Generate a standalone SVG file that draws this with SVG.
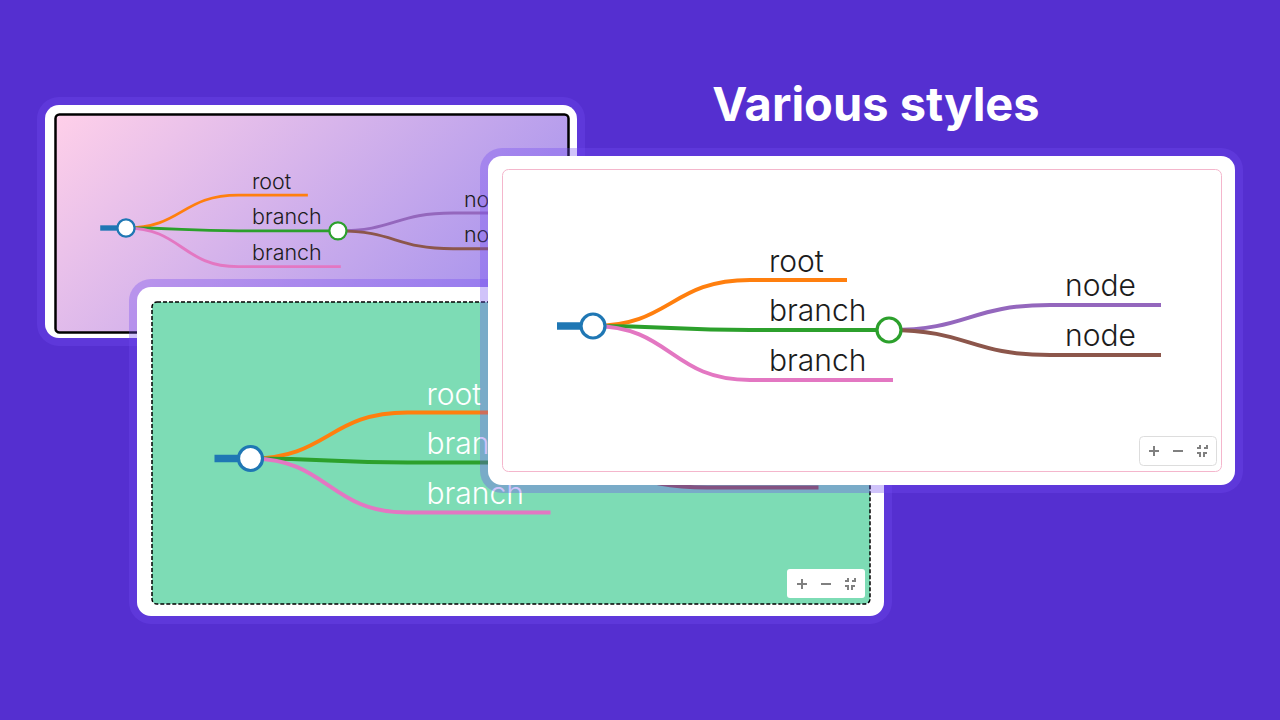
<svg xmlns="http://www.w3.org/2000/svg" width="1280" height="720" viewBox="0 0 1280 720">
<style>
.halo{fill:rgb(113,74,239);fill-opacity:.335}
.card{fill:#fff}
.t{font-family:Inter,"Liberation Sans",Arial,sans-serif;font-size:30px;font-weight:300;fill:#1c1c1c}
.w .t{fill:#fff}
.l{fill:none;stroke-width:4;stroke-linecap:butt}
.o{stroke:#ff7f0e}.g{stroke:#2ca02c}.p{stroke:#e377c2}.v{stroke:#9467bd}.b{stroke:#8c564b}
.stem{stroke:#1f77b4;stroke-width:7.500;fill:none}
.c1{fill:#fff;stroke:#1f77b4;stroke-width:3.200}
.c2{fill:#fff;stroke:#2ca02c;stroke-width:3.200}
.ic{fill:none;stroke:#808080;stroke-width:2}
.title{font-family:Inter,"Liberation Sans",sans-serif;font-size:47px;font-weight:700;fill:#fff}
</style>
<defs>
<linearGradient id="grad" gradientUnits="userSpaceOnUse" x1="129" y1="40" x2="495" y2="407">
<stop offset="0" stop-color="#ffd0e9"/><stop offset="1" stop-color="#9a8aee"/>
</linearGradient>
</defs>
<rect width="1280" height="720" fill="#552fd0"/>
<text class="title" x="876" y="121" text-anchor="middle">Various styles</text>

<g id="card-gradient">
<rect class="halo" x="37" y="97" width="548" height="249" rx="22"/>
<rect class="card" x="45" y="105" width="532" height="233" rx="14"/>
<rect x="55.500" y="114.500" width="513" height="218" rx="4" fill="url(#grad)" stroke="#000" stroke-width="2.500"/>
<g transform="translate(126 228) scale(.716) translate(-593 -326)">
<g id="a-links">
<path class="stem" d="M557 326H593"/>
<path class="l o" d="M593 326C671 326 671 280 750 280H847"/>
<path class="l g" d="M593 326C671 326 671 330 750 330H877"/>
<path class="l p" d="M593 326C671 326 671 380 750 380H893"/>
<path class="l v" d="M889 330C969 330 969 305 1050 305H1161"/>
<path class="l b" d="M889 330C969 330 969 355 1050 355H1161"/>
</g>
<g id="a-root"><circle class="c1" cx="593" cy="326" r="12"/></g>
<g id="a-n1"><text class="t" x="769" y="272">root</text></g>
<g id="a-n2"><text class="t" x="769" y="321">branch</text><circle class="c2" cx="889" cy="330" r="12"/></g>
<g id="a-n3"><text class="t" x="769" y="371">branch</text></g>
<g id="a-n4"><text class="t" x="1065" y="296">node</text></g>
<g id="a-n5"><text class="t" x="1065" y="346">node</text></g>
</g>
</g>

<g id="card-green">
<rect class="halo" x="129" y="279" width="763" height="345" rx="22"/>
<rect class="card" x="137" y="287" width="747" height="329" rx="14"/>
<rect x="152" y="302" width="718" height="302" rx="5" fill="#7ddcb5" stroke="#000" stroke-width="1.500" stroke-dasharray="4 2"/>
<g class="w" transform="translate(-342.500 132.500)">
<g id="b-links">
<path class="stem" d="M557 326H593"/>
<path class="l o" d="M593 326C671 326 671 280 750 280H847"/>
<path class="l g" d="M593 326C671 326 671 330 750 330H877"/>
<path class="l p" d="M593 326C671 326 671 380 750 380H893"/>
<path class="l v" d="M889 330C969 330 969 305 1050 305H1161"/>
<path class="l b" d="M889 330C969 330 969 355 1050 355H1161"/>
</g>
<g id="b-root"><circle class="c1" cx="593" cy="326" r="12"/></g>
<g id="b-n1"><text class="t" x="769" y="272">root</text></g>
<g id="b-n2"><text class="t" x="769" y="321">branch</text><circle class="c2" cx="889" cy="330" r="12"/></g>
<g id="b-n3"><text class="t" x="769" y="371">branch</text></g>
</g>
<g id="b-controls">
<rect x="787" y="569" width="78" height="29" rx="3" fill="#fff"/>
<path class="ic" d="M797 584H807M802 579V589M821 584H831M845 581H848V578M855 578V581H852M845 586H848V590M855 586H852V590"/>
</g>
</g>

<g id="card-white">
<rect class="halo" x="480" y="148" width="763" height="345" rx="22"/>
<rect class="card" x="488" y="156" width="747" height="329" rx="14"/>
<rect x="502.500" y="169.500" width="719" height="302" rx="6" fill="#fff" stroke="#f4b6cc" stroke-width="1"/>
<g id="c-links">
<path class="stem" d="M557 326H593"/>
<path class="l o" d="M593 326C671 326 671 280 750 280H847"/>
<path class="l g" d="M593 326C671 326 671 330 750 330H877"/>
<path class="l p" d="M593 326C671 326 671 380 750 380H893"/>
<path class="l v" d="M889 330C969 330 969 305 1050 305H1161"/>
<path class="l b" d="M889 330C969 330 969 355 1050 355H1161"/>
</g>
<g id="c-root"><circle class="c1" cx="593" cy="326" r="12"/></g>
<g id="c-n1"><text class="t" x="769" y="272">root</text></g>
<g id="c-n2"><text class="t" x="769" y="321">branch</text><circle class="c2" cx="889" cy="330" r="12"/></g>
<g id="c-n3"><text class="t" x="769" y="371">branch</text></g>
<g id="c-n4"><text class="t" x="1065" y="296">node</text></g>
<g id="c-n5"><text class="t" x="1065" y="346">node</text></g>
<g id="c-controls">
<rect x="1139.500" y="436.500" width="77" height="29" rx="4" fill="#fff" stroke="#ddd"/>
<path class="ic" d="M1149 451H1159M1154 446V456M1173 451H1183M1197 448H1200V445M1207 445V448H1204M1197 453H1200V457M1207 453H1204V457"/>
</g>
</g>
</svg>
